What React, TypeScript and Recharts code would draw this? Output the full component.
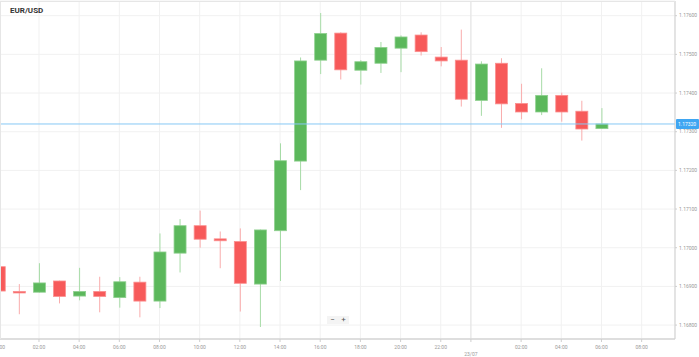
import { ComposedChart, Bar, XAxis, YAxis, CartesianGrid, ReferenceLine } from 'recharts'

// hourly candles, 22/07 00:00 -> 23/07 06:00
const hours = [0, 1, 2, 3, 4, 5, 6, 7, 8, 9, 10, 11, 12, 13, 14, 15, 16, 17, 18, 19, 20, 21, 22, 23, 24, 25, 26, 27, 28, 29, 30]
const opens = [1.16951, 1.16887, 1.16885, 1.16914, 1.16875, 1.16887, 1.16871, 1.16911, 1.16862, 1.16986, 1.17057, 1.17023, 1.17016, 1.16906, 1.17044, 1.17224, 1.17485, 1.17555, 1.17459, 1.17477, 1.17516, 1.1755, 1.17493, 1.17485, 1.17381, 1.17477, 1.17373, 1.17351, 1.17394, 1.17353, 1.17308]
const highs = [1.16953, 1.16906, 1.1696, 1.16915, 1.16948, 1.16925, 1.16924, 1.16925, 1.17037, 1.17074, 1.17096, 1.17042, 1.1705, 1.17047, 1.1727, 1.17492, 1.17607, 1.17557, 1.17485, 1.17532, 1.17549, 1.17557, 1.17519, 1.17564, 1.17482, 1.1749, 1.17424, 1.17464, 1.17401, 1.1738, 1.17361]
const lows = [1.16886, 1.16828, 1.16884, 1.16856, 1.16864, 1.16833, 1.16845, 1.1682, 1.16844, 1.16936, 1.17, 1.16947, 1.16835, 1.16795, 1.16914, 1.17149, 1.17449, 1.17435, 1.17422, 1.17452, 1.17454, 1.17497, 1.17469, 1.17365, 1.17341, 1.1731, 1.17332, 1.17343, 1.17326, 1.17277, 1.17307]
const closes = [1.16888, 1.16883, 1.16909, 1.16874, 1.16887, 1.16874, 1.16912, 1.16862, 1.16989, 1.17057, 1.17022, 1.17018, 1.16908, 1.17046, 1.17225, 1.17483, 1.17554, 1.1746, 1.17481, 1.17518, 1.17545, 1.17507, 1.17483, 1.17384, 1.17475, 1.17372, 1.17351, 1.17394, 1.17351, 1.17307, 1.1732]

const priceTicks = [1.168, 1.169, 1.17, 1.171, 1.172, 1.173, 1.174, 1.175, 1.176]
const timeTicks = [0, 2, 4, 6, 8, 10, 12, 14, 16, 18, 20, 22, 23.5, 26, 28, 30, 32]
const timeLabels = ['00:00', '02:00', '04:00', '06:00', '08:00', '10:00', '12:00', '14:00', '16:00', '18:00', '20:00', '22:00', '23/07', '02:00', '04:00', '06:00', '08:00']
const lastPrice = 1.1732

const UP = '#5cb85c'
const DOWN = '#f75a5a'
const TICK = '#9a9a9a'

const data = hours.map((t, i) => ({
  t,
  range: [lows[i], highs[i]],
  o: opens[i],
  h: highs[i],
  l: lows[i],
  c: closes[i],
}))

function Candle(props: any) {
  const { x, y, width, height, payload } = props
  const { o, h, l, c } = payload
  const top = Math.min(y, y + height)
  const span = Math.abs(height)
  const ratio = h === l ? 0 : span / (h - l)
  const yOf = (v: number) => top + (h - v) * ratio
  const up = c >= o
  const cx = x + width / 2
  const bTop = yOf(Math.max(o, c))
  const bBot = yOf(Math.min(o, c))
  const fill = up ? UP : DOWN
  return (
    <g>
      <line x1={cx} x2={cx} y1={top} y2={top + span} stroke={up ? '#a6dba6' : '#f9acac'} strokeWidth={1} />
      <rect
        x={x + 0.5}
        y={bTop}
        width={width - 1}
        height={Math.max(bBot - bTop, 1.5)}
        fill={fill}
        stroke={up ? '#8fd08f' : '#fb9090'}
        strokeWidth={0.8}
      />
    </g>
  )
}

function TimeTick(props: any) {
  const { x, y, payload } = props
  const idx = timeTicks.indexOf(payload.value)
  const label = timeLabels[idx] ?? ''
  const isDate = label.includes('/')
  return (
    <text x={x} y={y + (isDate ? 12 : 5)} textAnchor="middle" fontSize={5} fill={TICK} fontFamily="Roboto">
      {label}
    </text>
  )
}

function PriceTag(props: any) {
  const { viewBox } = props
  const yy = viewBox.y
  const xx = viewBox.x + viewBox.width
  return (
    <g>
      <rect x={xx + 1} y={yy - 5} width={23} height={10} fill="#3fa6f2" rx={1} />
      <text x={xx + 3} y={yy + 2} fontSize={5} fill="#fff" fontFamily="Roboto">
        {lastPrice.toFixed(5)}
      </text>
    </g>
  )
}

export default function App() {
  return (
    <div style={{ position: 'absolute', left: 0, top: 0, width: 699, height: 357, background: '#fff' }}>
      <ComposedChart width={699} height={357} data={data} margin={{ top: 1, right: 0, bottom: 0, left: 0 }}>
        <CartesianGrid stroke="#f1f1f1" />
        <XAxis
          dataKey="t"
          type="number"
          domain={[0.06, 33.66]}
          allowDataOverflow
          ticks={timeTicks}
          interval={0}
          height={18}
          tick={<TimeTick />}
          tickSize={3}
          tickLine={{ stroke: '#cfcfcf' }}
          axisLine={{ stroke: '#d6d6d6', strokeWidth: 1.5 }}
        />
        <YAxis
          orientation="right"
          type="number"
          domain={[1.16764, 1.17638]}
          allowDataOverflow
          ticks={priceTicks}
          interval={0}
          width={24}
          tickSize={2}
          tickFormatter={(v: number) => v.toFixed(5)}
          tick={{ fontSize: 5, fill: TICK, fontFamily: 'Roboto', textAnchor: 'start' }}
          tickLine={{ stroke: '#cfcfcf' }}
          axisLine={{ stroke: '#cfcfcf' }}
        />
        <ReferenceLine x={23.5} stroke="#e3e3e3" />
        <Bar dataKey="range" barSize={13} shape={<Candle />} isAnimationActive={false} />
        <ReferenceLine y={lastPrice} stroke="#86c8f5" strokeWidth={1} label={<PriceTag />} />
      </ComposedChart>
      <div style={{ position: 'absolute', left: 0, top: 1, width: 675, height: 1, background: '#e6e6e6' }} />
      <div style={{ position: 'absolute', left: 0, top: 1, width: 1, height: 338, background: '#e6e6e6' }} />
      <div
        style={{
          position: 'absolute',
          left: 10,
          top: 6,
          fontFamily: 'Roboto',
          fontWeight: 700,
          fontSize: 8,
          color: '#333',
        }}
      >
        EUR/USD
      </div>
      <div
        style={{
          position: 'absolute',
          left: 327,
          top: 316,
          width: 22,
          height: 8,
          background: '#f4f4f4',
          display: 'flex',
          justifyContent: 'space-around',
          alignItems: 'center',
          fontFamily: 'Roboto',
          fontSize: 8,
          lineHeight: '8px',
          color: '#555',
        }}
      >
        <span>−</span>
        <span>+</span>
      </div>
    </div>
  )
}
